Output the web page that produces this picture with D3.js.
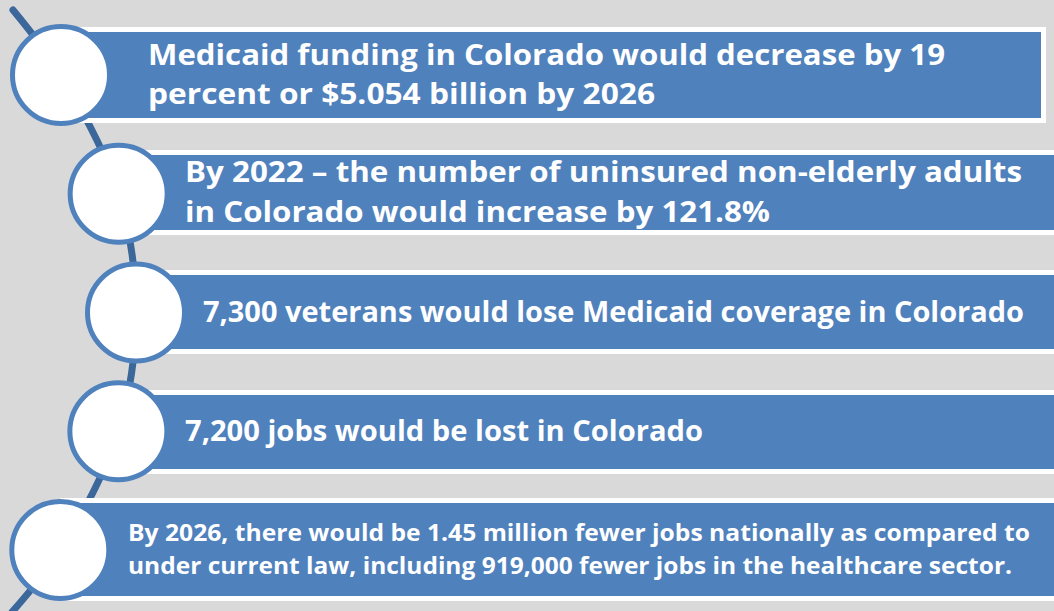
<!DOCTYPE html>
<html><head><meta charset="utf-8">
<script src="https://cdn.jsdelivr.net/npm/d3@7"></script>
<style>html,body{margin:0;padding:0;background:#d9d9d9;overflow:hidden}</style>
</head><body>
<svg id="c" width="1054" height="611"></svg>
<script>
// ---- data ----
const items = ["item1","item2","item3","item4","item5"];
const lines = [
  ["Medicaid funding in Colorado would decrease by 19", "percent or $5.054 billion by 2026"],
  ["By 2022 \u2013 the number of uninsured non-elderly adults", "in Colorado would increase by 121.8%"],
  ["7,300 veterans would lose Medicaid coverage in Colorado"],
  ["7,200 jobs would be lost in Colorado"],
  ["By 2026, there would be 1.45 million fewer jobs nationally as compared to", "under current law, including 919,000 fewer jobs in the healthcare sector."]
];

// ---- layout ----
const W = 1054, H = 611;
const layout = [
  {top:27, bot:123, right:1046, tx:148, fs:29, base:[65,104], widths:[797,507]},
  {top:150, bot:235, right:1060, tx:185, fs:29, base:[182,222], widths:[837,585]},
  {top:270, bot:354, right:1060, tx:203, fs:29, base:[322], widths:[821]},
  {top:390, bot:474, right:1060, tx:185, fs:29, base:[441], widths:[518]},
  {top:498, bot:601, right:1060, tx:128, fs:23, base:[541,574], widths:[902,884]}
];
const svg = d3.select("#c");
svg.append("rect").attr("width",W).attr("height",H).attr("fill","#d9d9d9");

const y = d3.scalePoint().domain(d3.range(items.length)).range([75,550]);
// arc through circle centres
const arcCx = -276, arcCy = 312, R = 412;
const xOnArc = yy => arcCx + Math.sqrt(R*R - (yy-arcCy)*(yy-arcCy));

const pts = [[13,10]].concat(items.map((d,i)=>[xOnArc(y(i)), y(i)])).concat([[12,612]]);
svg.append("path").attr("d", d3.line().curve(d3.curveCatmullRom.alpha(0.5))(pts)).attr("fill","none")
  .attr("stroke","#3b679b").attr("stroke-width",7).attr("stroke-linecap","round");

const g = svg.selectAll("g.item").data(items).join("g").attr("class","item");
g.each(function(d,i){
  const L = layout[i], cy = y(i), cx = xOnArc(cy);
  const s = d3.select(this);
  s.append("rect").attr("x",cx).attr("y",L.top).attr("width",L.right-cx).attr("height",L.bot-L.top).attr("fill","#ffffff");
  s.append("rect").attr("x",cx).attr("y",L.top+5).attr("width",L.right-cx-5).attr("height",L.bot-L.top-10).attr("fill","#4f81bd");
  s.append("circle").attr("cx",cx).attr("cy",cy).attr("r",48.5).attr("fill","#ffffff")
    .attr("stroke","#4f81bd").attr("stroke-width",5);
  lines[i].forEach((t,j)=>{
    s.append("text").attr("x",L.tx).attr("y",L.base[j])
      .attr("font-family","'Open Sans', 'Noto Sans', sans-serif").attr("font-weight","bold")
      .attr("font-size",L.fs).attr("fill","#ffffff")
      .attr("textLength",L.widths[j]).attr("lengthAdjust","spacingAndGlyphs")
      .text(t);
  });
});
</script>
</body></html>
